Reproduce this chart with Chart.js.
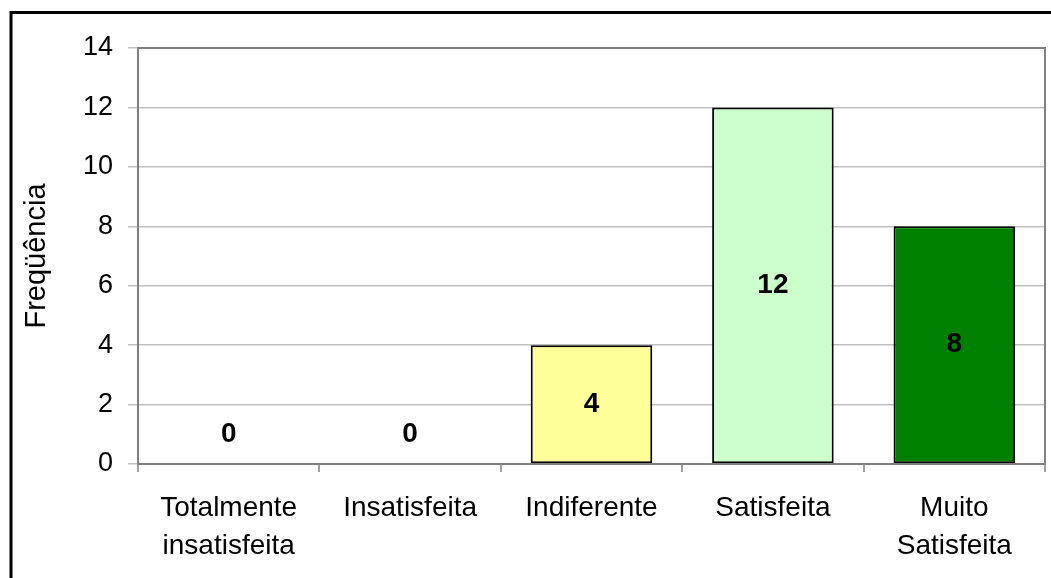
<!DOCTYPE html>
<html>
<head>
  <meta charset="utf-8">
  <title>Freqüência</title>
  <script src="https://cdn.jsdelivr.net/npm/chart.js"></script>
  <style>
    html, body {
      margin: 0;
      padding: 0;
      background: #fff;
    }
    #wrap {
      width: 1051px;
      height: 578px;
    }
  </style>
</head>
<body>
  <div id="wrap"><canvas id="myChart"></canvas></div>

  <script>
    const categorias = [['Totalmente', 'insatisfeita'], 'Insatisfeita', 'Indiferente', 'Satisfeita', ['Muito', 'Satisfeita']];
    const frequencias = [0, 0, 4, 12, 8];
    const cores = ['#9999FF', '#993366', '#FFFF99', '#CCFFCC', '#008000'];
    const yMax = 14;
    const yPasso = 2;

    const fonte = "Arial, 'Liberation Sans', sans-serif";

    // borda externa da figura + moldura da área de plotagem
    const molduras = {
      id: 'molduras',
      beforeDraw(chart) {
        const c = chart.ctx;
        c.save();
        c.strokeStyle = '#000';
        c.lineWidth = 3;
        c.beginPath();
        c.moveTo(11, 600);
        c.lineTo(11, 12.5);
        c.lineTo(1100, 12.5);
        c.stroke();
        c.restore();
      },
      afterDraw(chart) {
        const a = chart.chartArea;
        const c = chart.ctx;
        c.save();
        c.strokeStyle = '#808080';
        c.lineWidth = 2;
        c.strokeRect(a.left, a.top, a.right - a.left, a.bottom - a.top);
        c.restore();
      }
    };

    // rótulos de dados no meio das barras
    const rotulos = {
      id: 'rotulos',
      afterDatasetsDraw(chart) {
        const c = chart.ctx;
        const meta = chart.getDatasetMeta(0);
        c.save();
        c.font = 'bold 28px ' + fonte;
        c.fillStyle = '#000';
        c.textAlign = 'center';
        c.textBaseline = 'middle';
        meta.data.forEach((bar, i) => {
          const v = frequencias[i];
          const y = v > 0 ? (bar.y + bar.base) / 2 : bar.base - 30;
          c.fillText(String(v), bar.x, y);
        });
        c.restore();
      }
    };

    const ctx = document.getElementById('myChart').getContext('2d');
    new Chart(ctx, {
      type: 'bar',
      data: {
        labels: categorias,
        datasets: [{
          data: frequencias,
          backgroundColor: cores,
          borderColor: '#000',
          borderWidth: frequencias.map(v => v > 0 ? 2 : 0),
          borderSkipped: false,
          categoryPercentage: 1,
          barPercentage: 0.67
        }]
      },
      options: {
        responsive: true,
        maintainAspectRatio: false,
        animation: false,
        layout: {
          padding: { top: 48, right: 6, left: 0, bottom: 0 }
        },
        plugins: {
          legend: { display: false },
          tooltip: { enabled: false }
        },
        scales: {
          x: {
            grid: {
              offset: true,
              drawOnChartArea: false,
              color: '#a0a0a0',
              tickLength: 8,
              lineWidth: 2
            },
            border: { color: '#808080', width: 2 },
            ticks: {
              color: '#000',
              font: { family: fonte, size: 28, lineHeight: 1.36 },
              padding: 17,
              maxRotation: 0,
              autoSkip: false
            },
            afterFit(scale) { scale.height = 114; }
          },
          y: {
            min: 0,
            max: yMax,
            ticks: {
              stepSize: yPasso,
              color: '#000',
              font: { family: fonte, size: 27 },
              padding: 15
            },
            grid: {
              color: '#c0c0c0',
              lineWidth: 1.5,
              tickLength: 10
            },
            border: { color: '#808080', width: 2 },
            title: {
              display: true,
              text: 'Freqüência',
              color: '#000',
              font: { family: fonte, size: 29 },
              padding: { top: 20, bottom: 0 }
            },
            afterFit(scale) { scale.width = 138; }
          }
        }
      },
      plugins: [molduras, rotulos]
    });
  </script>
</body>
</html>
